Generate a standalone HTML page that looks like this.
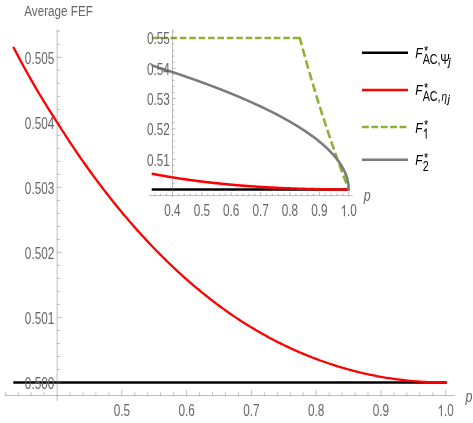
<!DOCTYPE html>
<html><head><meta charset="utf-8"><title>Average FEF</title>
<style>
html,body{margin:0;padding:0;background:#fff;}
body{width:473px;height:423px;overflow:hidden;font-family:"Liberation Sans",sans-serif;}
svg{display:block;font-family:"Liberation Sans",sans-serif;}
svg{will-change:transform;}
</style></head><body>
<svg width="473" height="423" viewBox="0 0 473 423">
<rect width="473" height="423" fill="#fff"/>
<path d="M13.28,382.50 L446.68,382.50" stroke="#000" stroke-width="2.3" fill="none"/>
<path d="M13.28,46.89 L14.72,49.66 L16.17,52.41 L17.61,55.15 L19.05,57.87 L20.49,60.58 L21.93,63.28 L23.37,65.94 L24.81,68.55 L26.26,71.14 L27.70,73.72 L29.14,76.28 L30.58,78.83 L32.02,81.37 L33.46,83.89 L34.90,86.39 L36.34,88.89 L37.79,91.36 L39.23,93.76 L40.67,96.14 L42.11,98.50 L43.55,100.84 L44.99,103.17 L46.43,105.49 L47.88,107.79 L49.32,110.08 L50.76,112.36 L52.20,114.62 L53.64,116.87 L55.08,119.11 L56.52,121.41 L57.96,123.71 L59.41,125.98 L60.85,128.25 L62.29,130.50 L63.73,132.73 L65.17,134.96 L66.61,137.17 L68.05,139.37 L69.50,141.55 L70.94,143.72 L72.38,145.88 L73.82,148.03 L75.26,150.16 L76.70,152.28 L78.14,154.39 L79.58,156.49 L81.03,158.56 L82.47,160.63 L83.91,162.68 L85.35,164.71 L86.79,166.74 L88.23,168.75 L89.67,170.75 L91.11,172.74 L92.56,174.71 L94.00,176.68 L95.44,178.63 L96.88,180.57 L98.32,182.49 L99.76,184.41 L101.20,186.31 L102.65,188.20 L104.09,190.08 L105.53,191.95 L106.97,193.80 L108.41,195.65 L109.85,197.48 L111.29,199.30 L112.73,201.11 L114.18,202.91 L115.62,204.69 L117.06,206.47 L118.50,208.23 L119.94,209.98 L121.38,211.72 L122.82,213.45 L124.27,215.17 L125.71,216.88 L127.15,218.57 L128.59,220.26 L130.03,221.93 L131.47,223.59 L132.91,225.24 L134.35,226.88 L135.80,228.51 L137.24,230.13 L138.68,231.74 L140.12,233.34 L141.56,234.92 L143.00,236.50 L144.44,238.06 L145.89,239.62 L147.33,241.16 L148.77,242.70 L150.21,244.22 L151.65,245.74 L153.09,247.24 L154.53,248.74 L155.97,250.22 L157.42,251.70 L158.86,253.16 L160.30,254.62 L161.74,256.06 L163.18,257.50 L164.62,258.92 L166.06,260.34 L167.50,261.74 L168.95,263.13 L170.39,264.52 L171.83,265.89 L173.27,267.26 L174.71,268.61 L176.15,269.96 L177.59,271.29 L179.04,272.62 L180.48,273.94 L181.92,275.24 L183.36,276.54 L184.80,277.83 L186.24,279.11 L187.68,280.37 L189.12,281.63 L190.57,282.88 L192.01,284.12 L193.45,285.36 L194.89,286.58 L196.33,287.79 L197.77,288.99 L199.21,290.19 L200.66,291.37 L202.10,292.55 L203.54,293.71 L204.98,294.87 L206.42,296.02 L207.86,297.16 L209.30,298.29 L210.74,299.41 L212.19,300.53 L213.63,301.63 L215.07,302.73 L216.51,303.81 L217.95,304.89 L219.39,305.96 L220.83,307.02 L222.28,308.08 L223.72,309.12 L225.16,310.15 L226.60,311.18 L228.04,312.20 L229.48,313.21 L230.92,314.20 L232.36,315.19 L233.81,316.16 L235.25,317.13 L236.69,318.09 L238.13,319.04 L239.57,319.98 L241.01,320.92 L242.45,321.85 L243.90,322.76 L245.34,323.67 L246.78,324.58 L248.22,325.47 L249.66,326.36 L251.10,327.23 L252.54,328.10 L253.98,328.97 L255.43,329.82 L256.87,330.67 L258.31,331.50 L259.75,332.33 L261.19,333.16 L262.63,333.97 L264.07,334.78 L265.51,335.58 L266.96,336.37 L268.40,337.15 L269.84,337.93 L271.28,338.70 L272.72,339.46 L274.16,340.21 L275.60,340.96 L277.05,341.70 L278.49,342.43 L279.93,343.15 L281.37,343.87 L282.81,344.58 L284.25,345.28 L285.69,345.97 L287.13,346.66 L288.58,347.34 L290.02,348.01 L291.46,348.68 L292.90,349.34 L294.34,349.99 L295.78,350.63 L297.22,351.27 L298.67,351.89 L300.11,352.52 L301.55,353.13 L302.99,353.74 L304.43,354.34 L305.87,354.93 L307.31,355.52 L308.75,356.10 L310.20,356.67 L311.64,357.24 L313.08,357.80 L314.52,358.35 L315.96,358.89 L317.40,359.43 L318.84,359.96 L320.29,360.49 L321.73,361.01 L323.17,361.52 L324.61,362.02 L326.05,362.52 L327.49,363.01 L328.93,363.50 L330.37,363.98 L331.82,364.45 L333.26,364.92 L334.70,365.38 L336.14,365.84 L337.58,366.29 L339.02,366.73 L340.46,367.17 L341.90,367.60 L343.35,368.02 L344.79,368.44 L346.23,368.85 L347.67,369.25 L349.11,369.65 L350.55,370.04 L351.99,370.43 L353.44,370.81 L354.88,371.18 L356.32,371.54 L357.76,371.90 L359.20,372.26 L360.64,372.61 L362.08,372.95 L363.52,373.28 L364.97,373.61 L366.41,373.93 L367.85,374.25 L369.29,374.56 L370.73,374.86 L372.17,375.16 L373.61,375.45 L375.06,375.74 L376.50,376.01 L377.94,376.29 L379.38,376.56 L380.82,376.82 L382.26,377.07 L383.70,377.32 L385.14,377.56 L386.59,377.80 L388.03,378.03 L389.47,378.26 L390.91,378.48 L392.35,378.69 L393.79,378.90 L395.23,379.10 L396.68,379.29 L398.12,379.48 L399.56,379.67 L401.00,379.84 L402.44,380.01 L403.88,380.18 L405.32,380.34 L406.76,380.50 L408.21,380.64 L409.65,380.79 L411.09,380.92 L412.53,381.06 L413.97,381.18 L415.41,381.30 L416.85,381.41 L418.29,381.52 L419.74,381.62 L421.18,381.72 L422.62,381.81 L424.06,381.90 L425.50,381.98 L426.94,382.05 L428.38,382.12 L429.83,382.18 L431.27,382.24 L432.71,382.29 L434.15,382.34 L435.59,382.38 L437.03,382.41 L438.47,382.44 L439.91,382.46 L441.36,382.48 L442.80,382.49 L444.24,382.50 L445.68,382.50 L446.68,382.50" stroke="#ff0000" stroke-width="2.3" fill="none"/>
<path d="M151.71,189.50 L348.73,189.50" stroke="#000" stroke-width="2.55" fill="none"/>
<path d="M151.71,173.66 L152.36,173.79 L153.02,173.91 L153.68,174.04 L154.33,174.17 L154.99,174.29 L155.65,174.41 L156.30,174.54 L156.96,174.66 L157.62,174.78 L158.28,174.90 L158.93,175.03 L159.59,175.15 L160.25,175.26 L160.90,175.38 L161.56,175.50 L162.22,175.62 L162.87,175.74 L163.53,175.85 L164.19,175.97 L164.84,176.08 L165.50,176.20 L166.16,176.31 L166.81,176.42 L167.47,176.53 L168.13,176.65 L168.78,176.76 L169.44,176.87 L170.10,176.98 L170.75,177.08 L171.41,177.19 L172.07,177.30 L172.72,177.41 L173.38,177.51 L174.04,177.62 L174.69,177.72 L175.35,177.83 L176.01,177.93 L176.66,178.04 L177.32,178.14 L177.98,178.24 L178.63,178.34 L179.29,178.44 L179.95,178.54 L180.60,178.64 L181.26,178.74 L181.92,178.84 L182.57,178.94 L183.23,179.03 L183.89,179.13 L184.54,179.23 L185.20,179.32 L185.86,179.42 L186.51,179.51 L187.17,179.61 L187.83,179.70 L188.49,179.79 L189.14,179.88 L189.80,179.97 L190.46,180.07 L191.11,180.16 L191.77,180.24 L192.43,180.33 L193.08,180.42 L193.74,180.51 L194.40,180.60 L195.05,180.68 L195.71,180.77 L196.37,180.86 L197.02,180.94 L197.68,181.03 L198.34,181.11 L198.99,181.19 L199.65,181.28 L200.31,181.36 L200.96,181.44 L201.62,181.52 L202.28,181.60 L202.93,181.69 L203.59,181.77 L204.25,181.84 L204.90,181.92 L205.56,182.00 L206.22,182.08 L206.87,182.16 L207.53,182.23 L208.19,182.31 L208.84,182.39 L209.50,182.46 L210.16,182.54 L210.81,182.61 L211.47,182.68 L212.13,182.76 L212.78,182.83 L213.44,182.90 L214.10,182.97 L214.75,183.04 L215.41,183.12 L216.07,183.19 L216.73,183.26 L217.38,183.33 L218.04,183.39 L218.70,183.46 L219.35,183.53 L220.01,183.60 L220.67,183.66 L221.32,183.73 L221.98,183.80 L222.64,183.86 L223.29,183.93 L223.95,183.99 L224.61,184.06 L225.26,184.12 L225.92,184.18 L226.58,184.25 L227.23,184.31 L227.89,184.37 L228.55,184.43 L229.20,184.49 L229.86,184.55 L230.52,184.61 L231.17,184.67 L231.83,184.73 L232.49,184.79 L233.14,184.85 L233.80,184.91 L234.46,184.96 L235.11,185.02 L235.77,185.08 L236.43,185.13 L237.08,185.19 L237.74,185.24 L238.40,185.30 L239.05,185.35 L239.71,185.41 L240.37,185.46 L241.02,185.51 L241.68,185.57 L242.34,185.62 L242.99,185.67 L243.65,185.72 L244.31,185.77 L244.96,185.82 L245.62,185.87 L246.28,185.92 L246.94,185.97 L247.59,186.02 L248.25,186.07 L248.91,186.12 L249.56,186.17 L250.22,186.21 L250.88,186.26 L251.53,186.31 L252.19,186.35 L252.85,186.40 L253.50,186.45 L254.16,186.49 L254.82,186.54 L255.47,186.58 L256.13,186.62 L256.79,186.67 L257.44,186.71 L258.10,186.75 L258.76,186.79 L259.41,186.84 L260.07,186.88 L260.73,186.92 L261.38,186.96 L262.04,187.00 L262.70,187.04 L263.35,187.08 L264.01,187.12 L264.67,187.16 L265.32,187.20 L265.98,187.24 L266.64,187.27 L267.29,187.31 L267.95,187.35 L268.61,187.39 L269.26,187.42 L269.92,187.46 L270.58,187.49 L271.23,187.53 L271.89,187.56 L272.55,187.60 L273.20,187.63 L273.86,187.67 L274.52,187.70 L275.18,187.73 L275.83,187.77 L276.49,187.80 L277.15,187.83 L277.80,187.86 L278.46,187.90 L279.12,187.93 L279.77,187.96 L280.43,187.99 L281.09,188.02 L281.74,188.05 L282.40,188.08 L283.06,188.11 L283.71,188.14 L284.37,188.16 L285.03,188.19 L285.68,188.22 L286.34,188.25 L287.00,188.28 L287.65,188.30 L288.31,188.33 L288.97,188.35 L289.62,188.38 L290.28,188.41 L290.94,188.43 L291.59,188.46 L292.25,188.48 L292.91,188.51 L293.56,188.53 L294.22,188.55 L294.88,188.58 L295.53,188.60 L296.19,188.62 L296.85,188.64 L297.50,188.67 L298.16,188.69 L298.82,188.71 L299.47,188.73 L300.13,188.75 L300.79,188.77 L301.44,188.79 L302.10,188.81 L302.76,188.83 L303.41,188.85 L304.07,188.87 L304.73,188.89 L305.39,188.91 L306.04,188.93 L306.70,188.94 L307.36,188.96 L308.01,188.98 L308.67,189.00 L309.33,189.01 L309.98,189.03 L310.64,189.05 L311.30,189.06 L311.95,189.08 L312.61,189.09 L313.27,189.11 L313.92,189.12 L314.58,189.14 L315.24,189.15 L315.89,189.16 L316.55,189.18 L317.21,189.19 L317.86,189.20 L318.52,189.22 L319.18,189.23 L319.83,189.24 L320.49,189.25 L321.15,189.26 L321.80,189.28 L322.46,189.29 L323.12,189.30 L323.77,189.31 L324.43,189.32 L325.09,189.33 L325.74,189.34 L326.40,189.35 L327.06,189.36 L327.71,189.36 L328.37,189.37 L329.03,189.38 L329.68,189.39 L330.34,189.40 L331.00,189.40 L331.65,189.41 L332.31,189.42 L332.97,189.42 L333.62,189.43 L334.28,189.44 L334.94,189.44 L335.60,189.45 L336.25,189.45 L336.91,189.46 L337.57,189.46 L338.22,189.47 L338.88,189.47 L339.54,189.47 L340.19,189.48 L340.85,189.48 L341.51,189.48 L342.16,189.49 L342.82,189.49 L343.48,189.49 L344.13,189.49 L344.79,189.50 L345.45,189.50 L346.10,189.50 L346.76,189.50 L347.42,189.50 L348.07,189.50 L348.73,189.50" stroke="#ff0000" stroke-width="2.55" fill="none"/>
<path d="M151.71,37.90 L158.21,37.90 M161.11,37.90 L167.61,37.90 M170.51,37.90 L177.01,37.90 M179.91,37.90 L186.41,37.90 M189.31,37.90 L195.81,37.90 M198.71,37.90 L205.21,37.90 M208.11,37.90 L214.61,37.90 M217.51,37.90 L224.01,37.90 M226.91,37.90 L233.41,37.90 M236.31,37.90 L242.81,37.90 M245.71,37.90 L252.21,37.90 M255.11,37.90 L261.61,37.90 M264.51,37.90 L271.01,37.90 M273.91,37.90 L280.41,37.90 M283.31,37.90 L289.81,37.90 M292.71,37.90 L299.76,37.90 L300.01,38.81 L300.26,39.73 L300.50,40.64 L300.75,41.55 L301.00,42.47 L301.25,43.38 L301.50,44.30 L301.75,45.21 M302.70,48.67 L302.98,49.71 L303.27,50.74 L303.56,51.78 L303.84,52.81 L304.13,53.85 L304.42,54.88 L304.71,55.92 L305.00,56.95 M305.97,60.40 L306.26,61.43 L306.56,62.46 L306.85,63.49 L307.15,64.53 L307.44,65.56 L307.74,66.59 L308.03,67.62 L308.33,68.66 M309.32,72.08 L309.62,73.11 L309.92,74.14 L310.22,75.17 L310.53,76.20 L310.83,77.23 L311.13,78.26 L311.44,79.29 L311.74,80.32 M312.75,83.73 L313.06,84.75 L313.37,85.78 L313.68,86.81 L313.99,87.84 L314.30,88.86 L314.61,89.89 L314.92,90.92 L315.23,91.95 M316.26,95.33 L316.58,96.36 L316.89,97.38 L317.21,98.41 L317.53,99.43 L317.85,100.46 L318.16,101.48 L318.48,102.51 L318.80,103.53 M319.86,106.90 L320.18,107.92 L320.51,108.94 L320.83,109.97 L321.16,110.99 L321.48,112.01 L321.81,113.03 L322.14,114.06 L322.46,115.08 M323.54,118.43 L323.87,119.45 L324.21,120.47 L324.54,121.49 L324.87,122.51 L325.21,123.53 L325.54,124.55 L325.88,125.57 L326.21,126.59 M327.32,129.91 L327.66,130.93 L328.00,131.95 L328.34,132.97 L328.68,133.98 L329.02,135.00 L329.37,136.02 L329.71,137.04 L330.06,138.05 M331.19,141.36 L331.53,142.38 L331.88,143.39 L332.23,144.41 L332.58,145.42 L332.94,146.44 L333.29,147.45 L333.64,148.47 L334.00,149.48 M335.15,152.77 L335.51,153.78 L335.87,154.80 L336.23,155.81 L336.59,156.82 L336.95,157.83 L337.31,158.85 L337.67,159.86 L338.04,160.87 M339.22,164.14 L339.59,165.15 L339.95,166.16 L340.32,167.17 L340.69,168.18 L341.06,169.19 L341.44,170.20 L341.81,171.21 L342.18,172.22 M343.39,175.47 L343.77,176.48 L344.15,177.49 L344.53,178.49 L344.91,179.50 L345.29,180.51 L345.67,181.52 L346.05,182.52 L346.43,183.53 M347.67,186.76 L347.80,187.11 L347.94,187.45 L348.07,187.79 L348.20,188.13 L348.33,188.47 L348.47,188.82 L348.60,189.16 L348.73,189.50" stroke="#8fb032" stroke-width="2.55" fill="none" stroke-linejoin="miter"/>
<path d="M151.71,65.35 L152.04,65.46 L152.36,65.56 L152.69,65.67 L153.02,65.77 L153.35,65.87 L153.68,65.98 L154.01,66.08 L154.33,66.18 L154.66,66.29 L154.99,66.39 L155.32,66.50 L155.65,66.60 L155.98,66.71 L156.30,66.81 L156.63,66.92 L156.96,67.02 L157.29,67.13 L157.62,67.23 L157.95,67.34 L158.28,67.44 L158.60,67.55 L158.93,67.65 L159.26,67.76 L159.59,67.86 L159.92,67.97 L160.25,68.07 L160.57,68.18 L160.90,68.29 L161.23,68.39 L161.56,68.50 L161.89,68.60 L162.22,68.71 L162.54,68.82 L162.87,68.92 L163.20,69.03 L163.53,69.14 L163.86,69.24 L164.19,69.35 L164.51,69.46 L164.84,69.56 L165.17,69.67 L165.50,69.78 L165.83,69.89 L166.16,69.99 L166.48,70.10 L166.81,70.21 L167.14,70.32 L167.47,70.42 L167.80,70.53 L168.13,70.64 L168.45,70.75 L168.78,70.86 L169.11,70.96 L169.44,71.07 L169.77,71.18 L170.10,71.29 L170.42,71.40 L170.75,71.51 L171.08,71.62 L171.41,71.73 L171.74,71.83 L172.07,71.94 L172.40,72.05 L172.72,72.16 L173.05,72.27 L173.38,72.38 L173.71,72.49 L174.04,72.60 L174.37,72.71 L174.69,72.82 L175.02,72.93 L175.35,73.04 L175.68,73.15 L176.01,73.26 L176.34,73.37 L176.66,73.48 L176.99,73.59 L177.32,73.70 L177.65,73.82 L177.98,73.93 L178.31,74.04 L178.63,74.15 L178.96,74.26 L179.29,74.37 L179.62,74.48 L179.95,74.60 L180.28,74.71 L180.60,74.82 L180.93,74.93 L181.26,75.04 L181.59,75.16 L181.92,75.27 L182.25,75.38 L182.57,75.49 L182.90,75.61 L183.23,75.72 L183.56,75.83 L183.89,75.94 L184.22,76.06 L184.54,76.17 L184.87,76.28 L185.20,76.40 L185.53,76.51 L185.86,76.63 L186.19,76.74 L186.51,76.85 L186.84,76.97 L187.17,77.08 L187.50,77.20 L187.83,77.31 L188.16,77.42 L188.49,77.54 L188.81,77.65 L189.14,77.77 L189.47,77.88 L189.80,78.00 L190.13,78.11 L190.46,78.23 L190.78,78.35 L191.11,78.46 L191.44,78.58 L191.77,78.69 L192.10,78.81 L192.43,78.92 L192.75,79.04 L193.08,79.16 L193.41,79.27 L193.74,79.39 L194.07,79.51 L194.40,79.62 L194.72,79.74 L195.05,79.86 L195.38,79.97 L195.71,80.09 L196.04,80.21 L196.37,80.33 L196.69,80.44 L197.02,80.56 L197.35,80.68 L197.68,80.80 L198.01,80.92 L198.34,81.04 L198.66,81.15 L198.99,81.27 L199.32,81.39 L199.65,81.51 L199.98,81.63 L200.31,81.75 L200.63,81.87 L200.96,81.99 L201.29,82.11 L201.62,82.23 L201.95,82.35 L202.28,82.47 L202.61,82.59 L202.93,82.71 L203.26,82.83 L203.59,82.95 L203.92,83.07 L204.25,83.19 L204.58,83.31 L204.90,83.43 L205.23,83.55 L205.56,83.67 L205.89,83.79 L206.22,83.92 L206.55,84.04 L206.87,84.16 L207.20,84.28 L207.53,84.40 L207.86,84.53 L208.19,84.65 L208.52,84.77 L208.84,84.89 L209.17,85.02 L209.50,85.14 L209.83,85.26 L210.16,85.39 L210.49,85.51 L210.81,85.63 L211.14,85.76 L211.47,85.88 L211.80,86.00 L212.13,86.13 L212.46,86.25 L212.78,86.38 L213.11,86.50 L213.44,86.63 L213.77,86.75 L214.10,86.88 L214.43,87.00 L214.75,87.13 L215.08,87.25 L215.41,87.38 L215.74,87.50 L216.07,87.63 L216.40,87.76 L216.73,87.88 L217.05,88.01 L217.38,88.14 L217.71,88.26 L218.04,88.39 L218.37,88.52 L218.70,88.64 L219.02,88.77 L219.35,88.90 L219.68,89.03 L220.01,89.15 L220.34,89.28 L220.67,89.41 L220.99,89.54 L221.32,89.67 L221.65,89.80 L221.98,89.93 L222.31,90.05 L222.64,90.18 L222.96,90.31 L223.29,90.44 L223.62,90.57 L223.95,90.70 L224.28,90.83 L224.61,90.96 L224.93,91.09 L225.26,91.22 L225.59,91.35 L225.92,91.49 L226.25,91.62 L226.58,91.75 L226.90,91.88 L227.23,92.01 L227.56,92.14 L227.89,92.27 L228.22,92.41 L228.55,92.54 L228.87,92.67 L229.20,92.80 L229.53,92.94 L229.86,93.07 L230.19,93.20 L230.52,93.34 L230.85,93.47 L231.17,93.60 L231.50,93.74 L231.83,93.87 L232.16,94.01 L232.49,94.14 L232.82,94.28 L233.14,94.41 L233.47,94.55 L233.80,94.68 L234.13,94.82 L234.46,94.95 L234.79,95.09 L235.11,95.23 L235.44,95.36 L235.77,95.50 L236.10,95.64 L236.43,95.77 L236.76,95.91 L237.08,96.05 L237.41,96.18 L237.74,96.32 L238.07,96.46 L238.40,96.60 L238.73,96.74 L239.05,96.87 L239.38,97.01 L239.71,97.15 L240.04,97.29 L240.37,97.43 L240.70,97.57 L241.02,97.71 L241.35,97.85 L241.68,97.99 L242.01,98.13 L242.34,98.27 L242.67,98.41 L242.99,98.55 L243.32,98.70 L243.65,98.84 L243.98,98.98 L244.31,99.12 L244.64,99.26 L244.96,99.41 L245.29,99.55 L245.62,99.69 L245.95,99.83 L246.28,99.98 L246.61,100.12 L246.94,100.26 L247.26,100.41 L247.59,100.55 L247.92,100.70 L248.25,100.84 L248.58,100.99 L248.91,101.13 L249.23,101.28 L249.56,101.42 L249.89,101.57 L250.22,101.72 L250.55,101.86 L250.88,102.01 L251.20,102.16 L251.53,102.30 L251.86,102.45 L252.19,102.60 L252.52,102.75 L252.85,102.89 L253.17,103.04 L253.50,103.19 L253.83,103.34 L254.16,103.49 L254.49,103.64 L254.82,103.79 L255.14,103.94 L255.47,104.09 L255.80,104.24 L256.13,104.39 L256.46,104.54 L256.79,104.69 L257.11,104.84 L257.44,105.00 L257.77,105.15 L258.10,105.30 L258.43,105.45 L258.76,105.61 L259.08,105.76 L259.41,105.91 L259.74,106.07 L260.07,106.22 L260.40,106.38 L260.73,106.53 L261.06,106.68 L261.38,106.84 L261.71,107.00 L262.04,107.15 L262.37,107.31 L262.70,107.46 L263.03,107.62 L263.35,107.78 L263.68,107.93 L264.01,108.09 L264.34,108.25 L264.67,108.41 L265.00,108.57 L265.32,108.73 L265.65,108.89 L265.98,109.04 L266.31,109.20 L266.64,109.36 L266.97,109.52 L267.29,109.69 L267.62,109.85 L267.95,110.01 L268.28,110.17 L268.61,110.33 L268.94,110.49 L269.26,110.66 L269.59,110.82 L269.92,110.98 L270.25,111.15 L270.58,111.31 L270.91,111.48 L271.23,111.64 L271.56,111.81 L271.89,111.97 L272.22,112.14 L272.55,112.30 L272.88,112.47 L273.20,112.64 L273.53,112.80 L273.86,112.97 L274.19,113.14 L274.52,113.31 L274.85,113.48 L275.18,113.65 L275.50,113.82 L275.83,113.99 L276.16,114.16 L276.49,114.33 L276.82,114.50 L277.15,114.67 L277.47,114.84 L277.80,115.01 L278.13,115.19 L278.46,115.36 L278.79,115.53 L279.12,115.71 L279.44,115.88 L279.77,116.05 L280.10,116.23 L280.43,116.41 L280.76,116.58 L281.09,116.76 L281.41,116.93 L281.74,117.11 L282.07,117.29 L282.40,117.47 L282.73,117.65 L283.06,117.82 L283.38,118.00 L283.71,118.18 L284.04,118.36 L284.37,118.54 L284.70,118.73 L285.03,118.91 L285.35,119.09 L285.68,119.27 L286.01,119.46 L286.34,119.64 L286.67,119.82 L287.00,120.01 L287.32,120.19 L287.65,120.38 L287.98,120.56 L288.31,120.75 L288.64,120.94 L288.97,121.13 L289.29,121.31 L289.62,121.50 L289.95,121.69 L290.28,121.88 L290.61,122.07 L290.94,122.26 L291.27,122.45 L291.59,122.65 L291.92,122.84 L292.25,123.03 L292.58,123.22 L292.91,123.42 L293.24,123.61 L293.56,123.81 L293.89,124.00 L294.22,124.20 L294.55,124.40 L294.88,124.60 L295.21,124.79 L295.53,124.99 L295.86,125.19 L296.19,125.39 L296.52,125.59 L296.85,125.79 L297.18,126.00 L297.50,126.20 L297.83,126.40 L298.16,126.61 L298.49,126.81 L298.82,127.01 L299.15,127.22 L299.47,127.43 L299.80,127.63 L300.13,127.84 L300.46,128.05 L300.79,128.26 L301.12,128.47 L301.44,128.68 L301.77,128.89 L302.10,129.11 L302.43,129.32 L302.76,129.53 L303.09,129.75 L303.41,129.96 L303.74,130.18 L304.07,130.39 L304.40,130.61 L304.73,130.83 L305.06,131.05 L305.39,131.27 L305.71,131.49 L306.04,131.71 L306.37,131.94 L306.70,132.16 L307.03,132.38 L307.36,132.61 L307.68,132.84 L308.01,133.06 L308.34,133.29 L308.67,133.52 L309.00,133.75 L309.33,133.98 L309.65,134.21 L309.98,134.45 L310.31,134.68 L310.64,134.91 L310.97,135.15 L311.30,135.39 L311.62,135.62 L311.95,135.86 L312.28,136.10 L312.61,136.34 L312.94,136.59 L313.27,136.83 L313.59,137.07 L313.92,137.32 L314.25,137.57 L314.58,137.81 L314.91,138.06 L315.24,138.31 L315.56,138.57 L315.89,138.82 L316.22,139.07 L316.55,139.33 L316.88,139.58 L317.21,139.84 L317.53,140.10 L317.86,140.36 L318.19,140.62 L318.52,140.89 L318.85,141.15 L319.18,141.42 L319.51,141.69 L319.83,141.96 L320.16,142.23 L320.49,142.50 L320.82,142.77 L321.15,143.05 L321.48,143.33 L321.80,143.61 L322.13,143.89 L322.46,144.17 L322.79,144.45 L323.12,144.74 L323.45,145.03 L323.77,145.32 L324.10,145.61 L324.43,145.90 L324.76,146.20 L325.09,146.49 L325.42,146.79 L325.74,147.10 L326.07,147.40 L326.40,147.71 L326.73,148.01 L327.06,148.33 L327.39,148.64 L327.71,148.95 L328.04,149.27 L328.37,149.59 L328.70,149.92 L329.03,150.24 L329.36,150.57 L329.68,150.90 L330.01,151.24 L330.34,151.57 L330.67,151.91 L331.00,152.26 L331.33,152.60 L331.65,152.95 L331.98,153.31 L332.31,153.66 L332.64,154.02 L332.97,154.39 L333.30,154.75 L333.62,155.13 L333.95,155.50 L334.28,155.88 L334.61,156.27 L334.94,156.65 L335.27,157.05 L335.60,157.45 L335.92,157.85 L336.25,158.26 L336.58,158.67 L336.91,159.09 L337.24,159.52 L337.57,159.95 L337.89,160.39 L338.22,160.83 L338.55,161.28 L338.88,161.74 L339.21,162.21 L339.54,162.68 L339.86,163.16 L340.19,163.66 L340.52,164.16 L340.85,164.67 L341.18,165.19 L341.51,165.73 L341.83,166.27 L342.16,166.83 L342.49,167.41 L342.82,168.00 L343.15,168.60 L343.48,169.23 L343.80,169.87 L344.13,170.54 L344.46,171.23 L344.79,171.94 L345.12,172.69 L345.45,173.47 L345.77,174.30 L346.10,175.16 L346.43,176.09 L346.76,177.09 L347.09,178.17 L347.42,179.36 L347.74,180.72 L348.07,182.33 L348.40,184.43 L348.73,189.50 L348.73,190.75" stroke="#7a7a7a" stroke-width="2.55" fill="none"/>
<line x1="5.00" y1="395.50" x2="455.00" y2="395.50" stroke="#666" stroke-width="0.43"/>
<line x1="57.15" y1="29.30" x2="57.15" y2="401.20" stroke="#666" stroke-width="0.43"/>
<line x1="5.23" y1="395.50" x2="5.23" y2="392.30" stroke="#666" stroke-width="0.43"/>
<line x1="18.18" y1="395.50" x2="18.18" y2="392.30" stroke="#666" stroke-width="0.43"/>
<line x1="31.14" y1="395.50" x2="31.14" y2="392.30" stroke="#666" stroke-width="0.43"/>
<line x1="44.09" y1="395.50" x2="44.09" y2="392.30" stroke="#666" stroke-width="0.43"/>
<line x1="70.01" y1="395.50" x2="70.01" y2="392.30" stroke="#666" stroke-width="0.43"/>
<line x1="82.96" y1="395.50" x2="82.96" y2="392.30" stroke="#666" stroke-width="0.43"/>
<line x1="95.91" y1="395.50" x2="95.91" y2="392.30" stroke="#666" stroke-width="0.43"/>
<line x1="108.87" y1="395.50" x2="108.87" y2="392.30" stroke="#666" stroke-width="0.43"/>
<line x1="121.82" y1="395.50" x2="121.82" y2="390.10" stroke="#666" stroke-width="0.43"/>
<text transform="translate(121.82,416.20) scale(0.741,1)" font-size="15.9" text-anchor="middle" fill="#666666">0.5</text>
<line x1="134.78" y1="395.50" x2="134.78" y2="392.30" stroke="#666" stroke-width="0.43"/>
<line x1="147.74" y1="395.50" x2="147.74" y2="392.30" stroke="#666" stroke-width="0.43"/>
<line x1="160.69" y1="395.50" x2="160.69" y2="392.30" stroke="#666" stroke-width="0.43"/>
<line x1="173.65" y1="395.50" x2="173.65" y2="392.30" stroke="#666" stroke-width="0.43"/>
<line x1="186.60" y1="395.50" x2="186.60" y2="390.10" stroke="#666" stroke-width="0.43"/>
<text transform="translate(186.60,416.20) scale(0.741,1)" font-size="15.9" text-anchor="middle" fill="#666666">0.6</text>
<line x1="199.56" y1="395.50" x2="199.56" y2="392.30" stroke="#666" stroke-width="0.43"/>
<line x1="212.51" y1="395.50" x2="212.51" y2="392.30" stroke="#666" stroke-width="0.43"/>
<line x1="225.46" y1="395.50" x2="225.46" y2="392.30" stroke="#666" stroke-width="0.43"/>
<line x1="238.42" y1="395.50" x2="238.42" y2="392.30" stroke="#666" stroke-width="0.43"/>
<line x1="251.37" y1="395.50" x2="251.37" y2="390.10" stroke="#666" stroke-width="0.43"/>
<text transform="translate(251.37,416.20) scale(0.741,1)" font-size="15.9" text-anchor="middle" fill="#666666">0.7</text>
<line x1="264.33" y1="395.50" x2="264.33" y2="392.30" stroke="#666" stroke-width="0.43"/>
<line x1="277.28" y1="395.50" x2="277.28" y2="392.30" stroke="#666" stroke-width="0.43"/>
<line x1="290.24" y1="395.50" x2="290.24" y2="392.30" stroke="#666" stroke-width="0.43"/>
<line x1="303.19" y1="395.50" x2="303.19" y2="392.30" stroke="#666" stroke-width="0.43"/>
<line x1="316.15" y1="395.50" x2="316.15" y2="390.10" stroke="#666" stroke-width="0.43"/>
<text transform="translate(316.15,416.20) scale(0.741,1)" font-size="15.9" text-anchor="middle" fill="#666666">0.8</text>
<line x1="329.11" y1="395.50" x2="329.11" y2="392.30" stroke="#666" stroke-width="0.43"/>
<line x1="342.06" y1="395.50" x2="342.06" y2="392.30" stroke="#666" stroke-width="0.43"/>
<line x1="355.02" y1="395.50" x2="355.02" y2="392.30" stroke="#666" stroke-width="0.43"/>
<line x1="367.97" y1="395.50" x2="367.97" y2="392.30" stroke="#666" stroke-width="0.43"/>
<line x1="380.93" y1="395.50" x2="380.93" y2="390.10" stroke="#666" stroke-width="0.43"/>
<text transform="translate(380.93,416.20) scale(0.741,1)" font-size="15.9" text-anchor="middle" fill="#666666">0.9</text>
<line x1="393.88" y1="395.50" x2="393.88" y2="392.30" stroke="#666" stroke-width="0.43"/>
<line x1="406.84" y1="395.50" x2="406.84" y2="392.30" stroke="#666" stroke-width="0.43"/>
<line x1="419.79" y1="395.50" x2="419.79" y2="392.30" stroke="#666" stroke-width="0.43"/>
<line x1="432.75" y1="395.50" x2="432.75" y2="392.30" stroke="#666" stroke-width="0.43"/>
<line x1="445.70" y1="395.50" x2="445.70" y2="390.10" stroke="#666" stroke-width="0.43"/>
<path transform="translate(437.51,416.20) scale(0.005753,-0.007764)" d="M763 0H583V1147Q518 1085 412.5 1023T223 930V1104Q373 1175 485.5 1275T645 1469H763Z" fill="#666666"/>
<text transform="translate(444.06,416.20) scale(0.741,1)" font-size="15.9" text-anchor="start" fill="#666666">.0</text>
<line x1="57.15" y1="382.50" x2="61.75" y2="382.50" stroke="#666" stroke-width="0.43"/>
<text transform="translate(54.30,388.90) scale(0.741,1)" font-size="15.9" text-anchor="end" fill="#666666">0.500</text>
<line x1="57.15" y1="369.49" x2="59.95" y2="369.49" stroke="#666" stroke-width="0.43"/>
<line x1="57.15" y1="356.48" x2="59.95" y2="356.48" stroke="#666" stroke-width="0.43"/>
<line x1="57.15" y1="343.48" x2="59.95" y2="343.48" stroke="#666" stroke-width="0.43"/>
<line x1="57.15" y1="330.47" x2="59.95" y2="330.47" stroke="#666" stroke-width="0.43"/>
<line x1="57.15" y1="317.46" x2="61.75" y2="317.46" stroke="#666" stroke-width="0.43"/>
<text transform="translate(54.30,323.86) scale(0.741,1)" font-size="15.9" text-anchor="end" fill="#666666">0.501</text>
<line x1="57.15" y1="304.45" x2="59.95" y2="304.45" stroke="#666" stroke-width="0.43"/>
<line x1="57.15" y1="291.44" x2="59.95" y2="291.44" stroke="#666" stroke-width="0.43"/>
<line x1="57.15" y1="278.44" x2="59.95" y2="278.44" stroke="#666" stroke-width="0.43"/>
<line x1="57.15" y1="265.43" x2="59.95" y2="265.43" stroke="#666" stroke-width="0.43"/>
<line x1="57.15" y1="252.42" x2="61.75" y2="252.42" stroke="#666" stroke-width="0.43"/>
<text transform="translate(54.30,258.82) scale(0.741,1)" font-size="15.9" text-anchor="end" fill="#666666">0.502</text>
<line x1="57.15" y1="239.41" x2="59.95" y2="239.41" stroke="#666" stroke-width="0.43"/>
<line x1="57.15" y1="226.40" x2="59.95" y2="226.40" stroke="#666" stroke-width="0.43"/>
<line x1="57.15" y1="213.40" x2="59.95" y2="213.40" stroke="#666" stroke-width="0.43"/>
<line x1="57.15" y1="200.39" x2="59.95" y2="200.39" stroke="#666" stroke-width="0.43"/>
<line x1="57.15" y1="187.38" x2="61.75" y2="187.38" stroke="#666" stroke-width="0.43"/>
<text transform="translate(54.30,193.78) scale(0.741,1)" font-size="15.9" text-anchor="end" fill="#666666">0.503</text>
<line x1="57.15" y1="174.37" x2="59.95" y2="174.37" stroke="#666" stroke-width="0.43"/>
<line x1="57.15" y1="161.36" x2="59.95" y2="161.36" stroke="#666" stroke-width="0.43"/>
<line x1="57.15" y1="148.36" x2="59.95" y2="148.36" stroke="#666" stroke-width="0.43"/>
<line x1="57.15" y1="135.35" x2="59.95" y2="135.35" stroke="#666" stroke-width="0.43"/>
<line x1="57.15" y1="122.34" x2="61.75" y2="122.34" stroke="#666" stroke-width="0.43"/>
<text transform="translate(54.30,128.74) scale(0.741,1)" font-size="15.9" text-anchor="end" fill="#666666">0.504</text>
<line x1="57.15" y1="109.33" x2="59.95" y2="109.33" stroke="#666" stroke-width="0.43"/>
<line x1="57.15" y1="96.32" x2="59.95" y2="96.32" stroke="#666" stroke-width="0.43"/>
<line x1="57.15" y1="83.32" x2="59.95" y2="83.32" stroke="#666" stroke-width="0.43"/>
<line x1="57.15" y1="70.31" x2="59.95" y2="70.31" stroke="#666" stroke-width="0.43"/>
<line x1="57.15" y1="57.30" x2="61.75" y2="57.30" stroke="#666" stroke-width="0.43"/>
<text transform="translate(54.30,63.70) scale(0.741,1)" font-size="15.9" text-anchor="end" fill="#666666">0.505</text>
<line x1="57.15" y1="44.29" x2="59.95" y2="44.29" stroke="#666" stroke-width="0.43"/>
<line x1="57.15" y1="31.28" x2="59.95" y2="31.28" stroke="#666" stroke-width="0.43"/>
<text transform="translate(24.20,15.80) scale(0.775,1)" font-size="15.1" text-anchor="start" fill="#666666">Average FEF</text>
<text transform="translate(465.40,401.50) scale(0.75,1)" font-size="16.8" text-anchor="start" fill="#666666" font-style="italic">p</text>
<line x1="149.00" y1="195.60" x2="352.70" y2="195.60" stroke="#666" stroke-width="0.43"/>
<line x1="172.50" y1="29.30" x2="172.50" y2="197.30" stroke="#666" stroke-width="0.43"/>
<line x1="154.82" y1="195.60" x2="154.82" y2="193.50" stroke="#666" stroke-width="0.43"/>
<line x1="160.70" y1="195.60" x2="160.70" y2="193.50" stroke="#666" stroke-width="0.43"/>
<line x1="166.57" y1="195.60" x2="166.57" y2="193.50" stroke="#666" stroke-width="0.43"/>
<text transform="translate(172.45,216.25) scale(0.741,1)" font-size="15.9" text-anchor="middle" fill="#666666">0.4</text>
<line x1="178.33" y1="195.60" x2="178.33" y2="193.50" stroke="#666" stroke-width="0.43"/>
<line x1="184.20" y1="195.60" x2="184.20" y2="193.50" stroke="#666" stroke-width="0.43"/>
<line x1="190.08" y1="195.60" x2="190.08" y2="193.50" stroke="#666" stroke-width="0.43"/>
<line x1="195.95" y1="195.60" x2="195.95" y2="193.50" stroke="#666" stroke-width="0.43"/>
<line x1="201.83" y1="195.60" x2="201.83" y2="192.10" stroke="#666" stroke-width="0.43"/>
<text transform="translate(201.83,216.25) scale(0.741,1)" font-size="15.9" text-anchor="middle" fill="#666666">0.5</text>
<line x1="207.71" y1="195.60" x2="207.71" y2="193.50" stroke="#666" stroke-width="0.43"/>
<line x1="213.58" y1="195.60" x2="213.58" y2="193.50" stroke="#666" stroke-width="0.43"/>
<line x1="219.46" y1="195.60" x2="219.46" y2="193.50" stroke="#666" stroke-width="0.43"/>
<line x1="225.33" y1="195.60" x2="225.33" y2="193.50" stroke="#666" stroke-width="0.43"/>
<line x1="231.21" y1="195.60" x2="231.21" y2="192.10" stroke="#666" stroke-width="0.43"/>
<text transform="translate(231.21,216.25) scale(0.741,1)" font-size="15.9" text-anchor="middle" fill="#666666">0.6</text>
<line x1="237.09" y1="195.60" x2="237.09" y2="193.50" stroke="#666" stroke-width="0.43"/>
<line x1="242.96" y1="195.60" x2="242.96" y2="193.50" stroke="#666" stroke-width="0.43"/>
<line x1="248.84" y1="195.60" x2="248.84" y2="193.50" stroke="#666" stroke-width="0.43"/>
<line x1="254.71" y1="195.60" x2="254.71" y2="193.50" stroke="#666" stroke-width="0.43"/>
<line x1="260.59" y1="195.60" x2="260.59" y2="192.10" stroke="#666" stroke-width="0.43"/>
<text transform="translate(260.59,216.25) scale(0.741,1)" font-size="15.9" text-anchor="middle" fill="#666666">0.7</text>
<line x1="266.47" y1="195.60" x2="266.47" y2="193.50" stroke="#666" stroke-width="0.43"/>
<line x1="272.34" y1="195.60" x2="272.34" y2="193.50" stroke="#666" stroke-width="0.43"/>
<line x1="278.22" y1="195.60" x2="278.22" y2="193.50" stroke="#666" stroke-width="0.43"/>
<line x1="284.09" y1="195.60" x2="284.09" y2="193.50" stroke="#666" stroke-width="0.43"/>
<line x1="289.97" y1="195.60" x2="289.97" y2="192.10" stroke="#666" stroke-width="0.43"/>
<text transform="translate(289.97,216.25) scale(0.741,1)" font-size="15.9" text-anchor="middle" fill="#666666">0.8</text>
<line x1="295.85" y1="195.60" x2="295.85" y2="193.50" stroke="#666" stroke-width="0.43"/>
<line x1="301.72" y1="195.60" x2="301.72" y2="193.50" stroke="#666" stroke-width="0.43"/>
<line x1="307.60" y1="195.60" x2="307.60" y2="193.50" stroke="#666" stroke-width="0.43"/>
<line x1="313.47" y1="195.60" x2="313.47" y2="193.50" stroke="#666" stroke-width="0.43"/>
<line x1="319.35" y1="195.60" x2="319.35" y2="192.10" stroke="#666" stroke-width="0.43"/>
<text transform="translate(319.35,216.25) scale(0.741,1)" font-size="15.9" text-anchor="middle" fill="#666666">0.9</text>
<line x1="325.23" y1="195.60" x2="325.23" y2="193.50" stroke="#666" stroke-width="0.43"/>
<line x1="331.10" y1="195.60" x2="331.10" y2="193.50" stroke="#666" stroke-width="0.43"/>
<line x1="336.98" y1="195.60" x2="336.98" y2="193.50" stroke="#666" stroke-width="0.43"/>
<line x1="342.85" y1="195.60" x2="342.85" y2="193.50" stroke="#666" stroke-width="0.43"/>
<line x1="348.73" y1="195.60" x2="348.73" y2="192.10" stroke="#666" stroke-width="0.43"/>
<path transform="translate(340.54,216.25) scale(0.005753,-0.007764)" d="M763 0H583V1147Q518 1085 412.5 1023T223 930V1104Q373 1175 485.5 1275T645 1469H763Z" fill="#666666"/>
<text transform="translate(347.09,216.25) scale(0.741,1)" font-size="15.9" text-anchor="start" fill="#666666">.0</text>
<line x1="172.50" y1="183.44" x2="174.50" y2="183.44" stroke="#666" stroke-width="0.43"/>
<line x1="172.50" y1="177.37" x2="174.50" y2="177.37" stroke="#666" stroke-width="0.43"/>
<line x1="172.50" y1="171.31" x2="174.50" y2="171.31" stroke="#666" stroke-width="0.43"/>
<line x1="172.50" y1="165.24" x2="174.50" y2="165.24" stroke="#666" stroke-width="0.43"/>
<line x1="172.50" y1="159.18" x2="175.80" y2="159.18" stroke="#666" stroke-width="0.43"/>
<text transform="translate(169.80,165.58) scale(0.741,1)" font-size="15.9" text-anchor="end" fill="#666666">0.51</text>
<line x1="172.50" y1="153.12" x2="174.50" y2="153.12" stroke="#666" stroke-width="0.43"/>
<line x1="172.50" y1="147.05" x2="174.50" y2="147.05" stroke="#666" stroke-width="0.43"/>
<line x1="172.50" y1="140.99" x2="174.50" y2="140.99" stroke="#666" stroke-width="0.43"/>
<line x1="172.50" y1="134.92" x2="174.50" y2="134.92" stroke="#666" stroke-width="0.43"/>
<line x1="172.50" y1="128.86" x2="175.80" y2="128.86" stroke="#666" stroke-width="0.43"/>
<text transform="translate(169.80,135.26) scale(0.741,1)" font-size="15.9" text-anchor="end" fill="#666666">0.52</text>
<line x1="172.50" y1="122.80" x2="174.50" y2="122.80" stroke="#666" stroke-width="0.43"/>
<line x1="172.50" y1="116.73" x2="174.50" y2="116.73" stroke="#666" stroke-width="0.43"/>
<line x1="172.50" y1="110.67" x2="174.50" y2="110.67" stroke="#666" stroke-width="0.43"/>
<line x1="172.50" y1="104.60" x2="174.50" y2="104.60" stroke="#666" stroke-width="0.43"/>
<line x1="172.50" y1="98.54" x2="175.80" y2="98.54" stroke="#666" stroke-width="0.43"/>
<text transform="translate(169.80,104.94) scale(0.741,1)" font-size="15.9" text-anchor="end" fill="#666666">0.53</text>
<line x1="172.50" y1="92.48" x2="174.50" y2="92.48" stroke="#666" stroke-width="0.43"/>
<line x1="172.50" y1="86.41" x2="174.50" y2="86.41" stroke="#666" stroke-width="0.43"/>
<line x1="172.50" y1="80.35" x2="174.50" y2="80.35" stroke="#666" stroke-width="0.43"/>
<line x1="172.50" y1="74.28" x2="174.50" y2="74.28" stroke="#666" stroke-width="0.43"/>
<line x1="172.50" y1="68.22" x2="175.80" y2="68.22" stroke="#666" stroke-width="0.43"/>
<text transform="translate(169.80,74.62) scale(0.741,1)" font-size="15.9" text-anchor="end" fill="#666666">0.54</text>
<line x1="172.50" y1="62.16" x2="174.50" y2="62.16" stroke="#666" stroke-width="0.43"/>
<line x1="172.50" y1="56.09" x2="174.50" y2="56.09" stroke="#666" stroke-width="0.43"/>
<line x1="172.50" y1="50.03" x2="174.50" y2="50.03" stroke="#666" stroke-width="0.43"/>
<line x1="172.50" y1="43.96" x2="174.50" y2="43.96" stroke="#666" stroke-width="0.43"/>
<line x1="172.50" y1="37.90" x2="175.80" y2="37.90" stroke="#666" stroke-width="0.43"/>
<text transform="translate(169.80,44.30) scale(0.741,1)" font-size="15.9" text-anchor="end" fill="#666666">0.55</text>
<line x1="172.50" y1="31.84" x2="174.50" y2="31.84" stroke="#666" stroke-width="0.43"/>
<text transform="translate(363.80,201.30) scale(0.75,1)" font-size="16.6" text-anchor="start" fill="#666666" font-style="italic">p</text>
<line x1="362" y1="52.8" x2="408" y2="52.8" stroke="#000" stroke-width="2.55"/>
<line x1="362" y1="89.95" x2="408" y2="89.95" stroke="#ff0000" stroke-width="2.55"/>
<line x1="362" y1="126.9" x2="408" y2="126.9" stroke="#8fb032" stroke-width="2.55" stroke-dasharray="6.8 2.6"/>
<line x1="362" y1="159.7" x2="408" y2="159.7" stroke="#7a7a7a" stroke-width="2.55"/>
<text transform="translate(415.20,58.10) scale(0.77,1)" font-size="15.3" text-anchor="start" fill="#000" font-style="italic">F</text>
<text transform="translate(424.2,54.50) scale(0.8,1)" font-size="12" fill="#000" stroke="#000" stroke-width="0.15">*</text>
<text transform="translate(422.65,63.90) scale(0.753,1)" font-size="14.3" text-anchor="start" fill="#000">AC,</text>
<text transform="translate(440.30,63.90) scale(0.78,1)" font-size="14.8" text-anchor="start" fill="#000">&#936;</text>
<text transform="translate(448.50,66.20) scale(0.84,1)" font-size="10.3" text-anchor="start" fill="#000" font-style="italic" stroke="#000" stroke-width="0.3">j</text>
<text transform="translate(415.20,95.10) scale(0.77,1)" font-size="15.3" text-anchor="start" fill="#000" font-style="italic">F</text>
<text transform="translate(424.2,91.50) scale(0.8,1)" font-size="12" fill="#000" stroke="#000" stroke-width="0.15">*</text>
<text transform="translate(422.65,100.90) scale(0.753,1)" font-size="14.3" text-anchor="start" fill="#000">AC,</text>
<text transform="translate(441.50,100.90) scale(0.753,1)" font-size="13.2" text-anchor="start" fill="#000" font-style="italic">&#951;</text>
<text transform="translate(447.70,103.20) scale(0.84,1)" font-size="10.3" text-anchor="start" fill="#000" font-style="italic" stroke="#000" stroke-width="0.3">j</text>
<text transform="translate(415.20,132.60) scale(0.77,1)" font-size="15.3" text-anchor="start" fill="#000" font-style="italic">F</text>
<text transform="translate(424.2,129.00) scale(0.8,1)" font-size="12" fill="#000" stroke="#000" stroke-width="0.15">*</text>
<text transform="translate(422.65,138.40) scale(0.753,1)" font-size="14.3" text-anchor="start" fill="#000"></text>
<path transform="translate(422.65,138.40) scale(0.005258,-0.006982)" d="M763 0H583V1147Q518 1085 412.5 1023T223 930V1104Q373 1175 485.5 1275T645 1469H763Z" fill="#000"/>
<text transform="translate(415.20,165.30) scale(0.77,1)" font-size="15.3" text-anchor="start" fill="#000" font-style="italic">F</text>
<text transform="translate(424.2,161.70) scale(0.8,1)" font-size="12" fill="#000" stroke="#000" stroke-width="0.15">*</text>
<text transform="translate(422.65,171.10) scale(0.753,1)" font-size="14.3" text-anchor="start" fill="#000">2</text>
</svg>
</body></html>
